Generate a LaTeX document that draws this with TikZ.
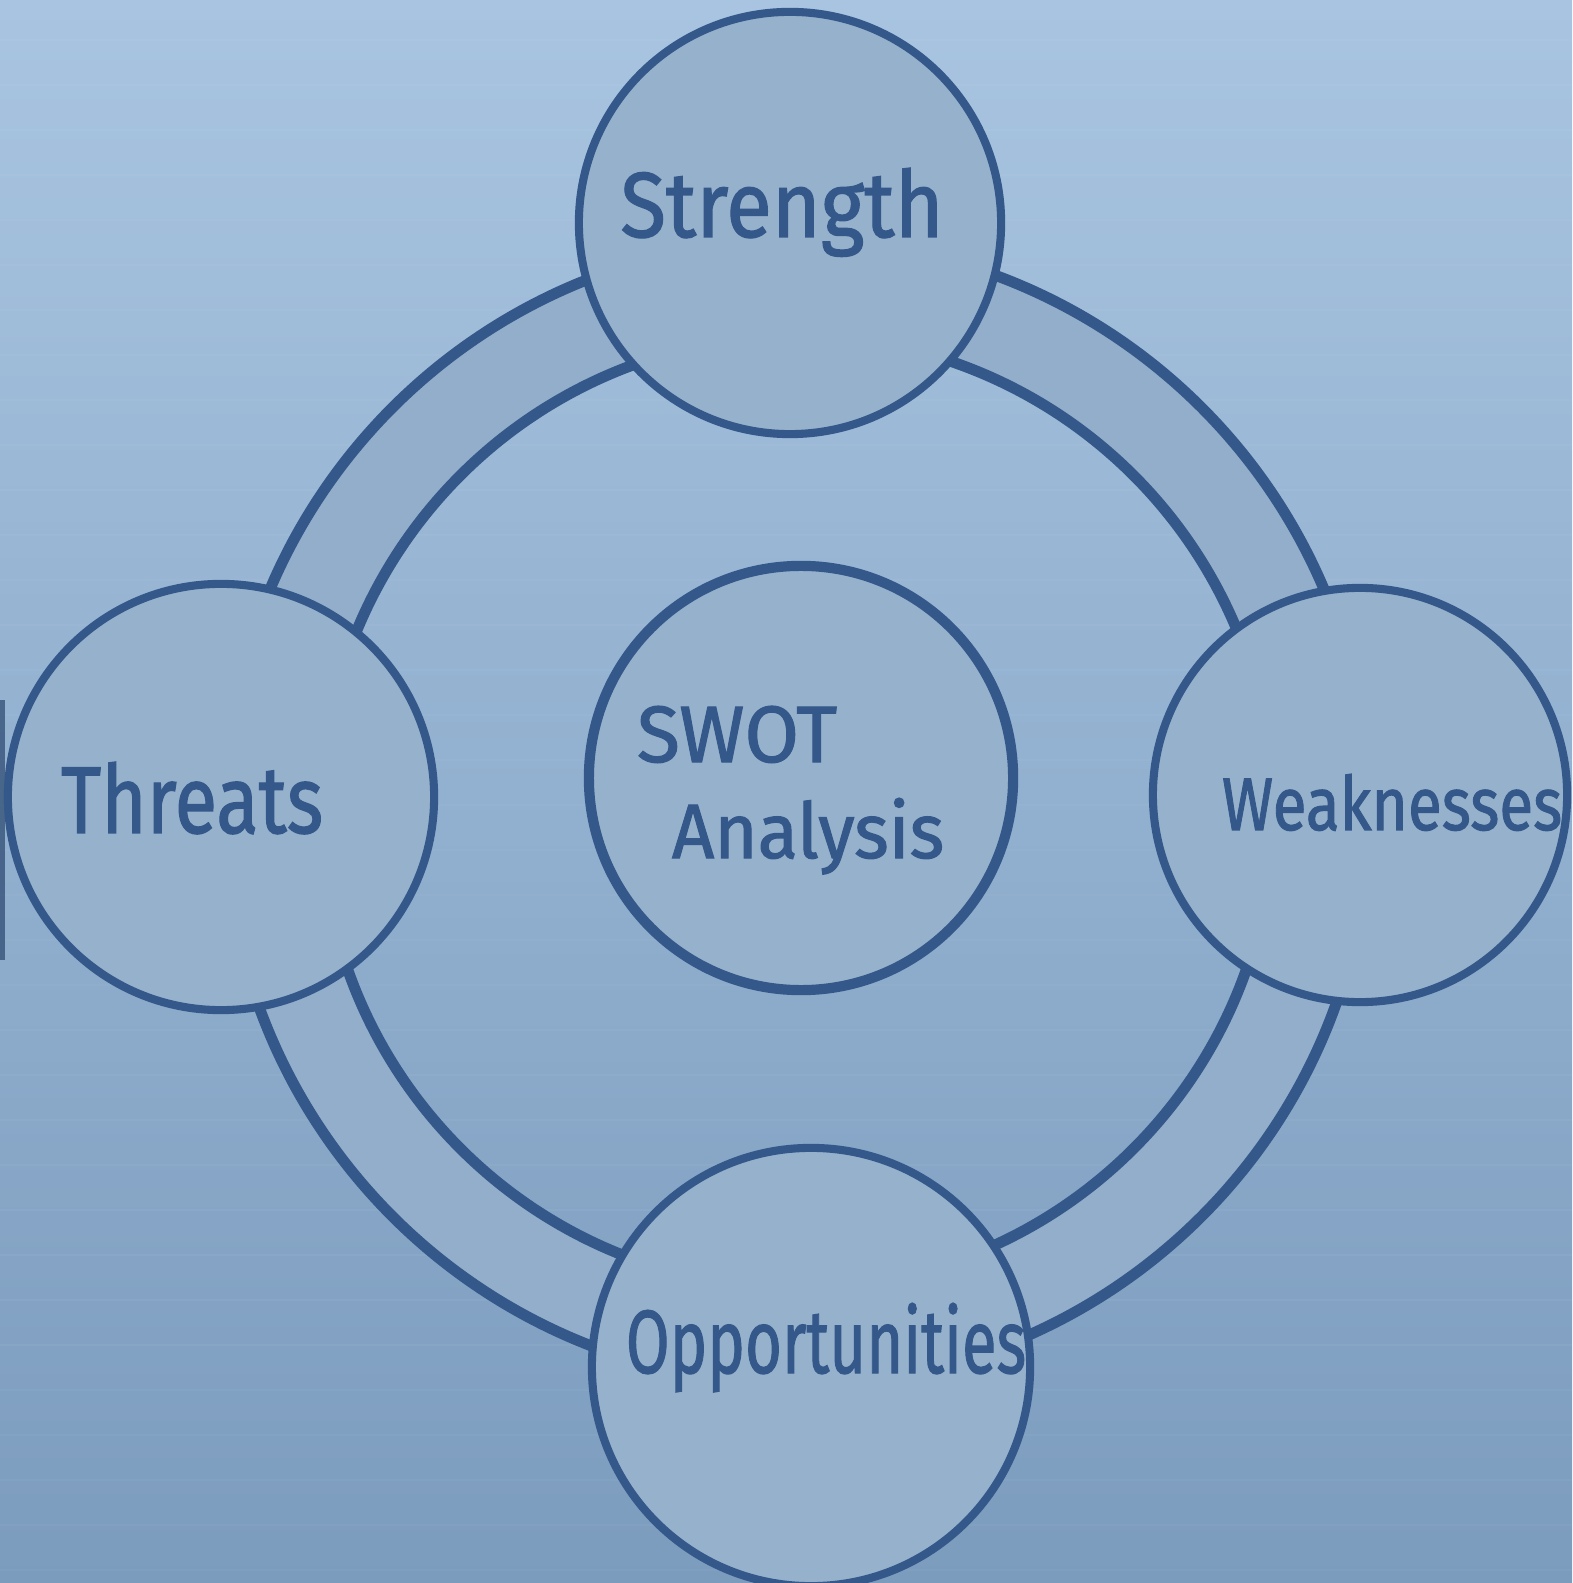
\documentclass[tikz,border=0pt]{standalone}
\usepackage{fontspec}
\usepackage{graphicx}
\setmainfont{Fira Sans}
\newfontfamily\handfont{Fira Sans}[FakeBold=1.4]
\definecolor{paperTop}{RGB}{168,196,224}
\definecolor{paperBot}{RGB}{124,156,190}
\definecolor{ink}{RGB}{52,88,138}
\definecolor{discFill}{RGB}{150,177,204}
\definecolor{bandFill}{RGB}{146,174,203}
\tikzset{
  disc/.style={circle, draw=ink, line width=2.3pt, fill=discFill},
  ringline/.style={draw=ink, line width=3.1pt},
  label/.style={text=ink, inner sep=0pt, anchor=base, font=\handfont}
}
% width and cap height of a hand-lettered word
\newcommand{\hw}[3]{\resizebox{#1cm}{#2cm}{#3}}
\begin{document}
\begin{tikzpicture}[x=0.01cm, y=-0.01cm]
  % paper
  \useasboundingbox (0,0) rectangle (1572,1583);
  \shade[top color=paperTop, bottom color=paperBot] (0,0) rectangle (1572,1583);
  \foreach \yy in {40,85,...,1583} {
    \draw[white, opacity=0.035, line width=0.6pt] (0,\yy) -- (1572,\yy);
  }
  \draw[ink!80!black, line width=1.6pt, opacity=0.7] (2,700) -- (2,960);

  % ring centre
  \coordinate (rc) at (797,812);
  % shaded band of the ring
  \fill[bandFill, even odd rule] (rc) circle[radius=572] (rc) circle[radius=476];
  \draw[ringline] (rc) circle[radius=572];
  \draw[ringline] (rc) circle[radius=476];

  % the five discs
  \node[disc, minimum size=4.22cm] (S) at (790,223) {};
  \node[disc, minimum size=4.26cm] (T) at (221,797) {};
  \node[disc, minimum size=4.14cm] (W) at (1360,795) {};
  \node[disc, minimum size=4.38cm] (O) at (811,1367) {};
  \node[disc, minimum size=4.24cm, line width=2.9pt] (C) at (801,778) {};

  % labels (placed by their baselines)
  \node[label] (Sl) at (782,237) {\hw{3.23}{0.69}{Strength}};
  \node[label] (Tl) at (192,833) {\hw{2.62}{0.71}{Threats}};
  \node[label] (Wl) at (1392,830) {\hw{3.40}{0.56}{Weaknesses}};
  \node[label] (Ol) at (826,1373) {\hw{4.00}{0.70}{Opportunities}};
  \node[label] (Cl1) at (737,762) {\hw{2.00}{0.56}{SWOT}};
  \node[label] (Cl2) at (808,858) {\hw{2.72}{0.60}{Analysis}};
\end{tikzpicture}
\end{document}
